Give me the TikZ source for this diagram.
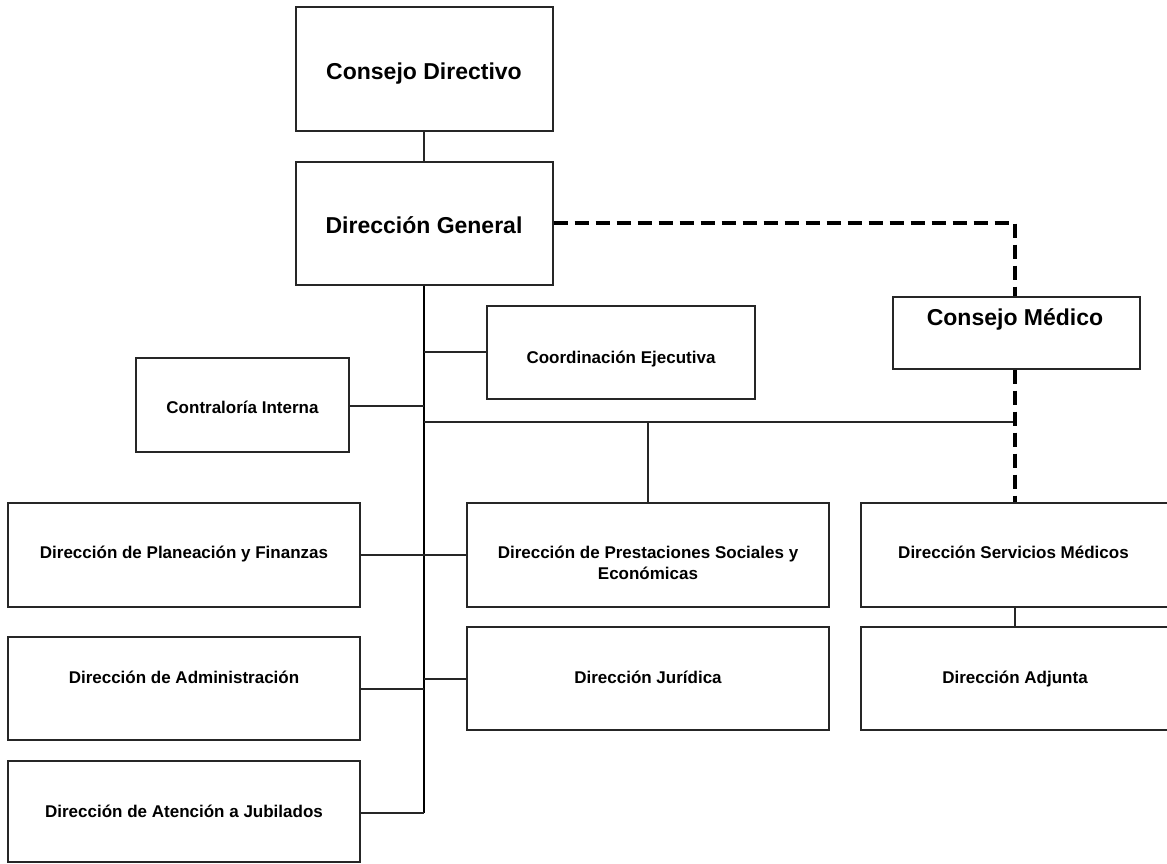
\documentclass[tikz,border=0pt]{standalone}
\usepackage{fontspec}
\setmainfont{Liberation Sans}
\begin{document}
\begin{tikzpicture}[x=1pt,y=-1pt,
  box/.style={draw=black!85,line width=1.4pt,rectangle,inner sep=0pt,fill=white},
  bigtxt/.style={font=\fontsize{23}{27}\selectfont\bfseries,anchor=base,inner sep=0pt},
  smalltxt/.style={font=\fontsize{17}{21}\selectfont\bfseries,anchor=base,inner sep=0pt},
  conn/.style={draw=black!85,line width=1.4pt},
  trunk/.style={draw=black,line width=2.2pt},
  dashconn/.style={draw=black,line width=4pt,dash pattern=on 14pt off 7pt}
]
\useasboundingbox (0,0) rectangle (1167,863);
\begin{scope}
\clip (0,0) rectangle (1167,863);
% boxes
\node[box,minimum width=257pt,minimum height=124pt] (cd) at (424.5,69) {};
\node[box,minimum width=257pt,minimum height=123pt] (dg) at (424.5,223.5) {};
\node[box,minimum width=247pt,minimum height=72pt] (cm) at (1016.5,333) {};
\node[box,minimum width=268pt,minimum height=93pt] (ce) at (621,352.5) {};
\node[box,minimum width=213pt,minimum height=94pt] (ci) at (242.5,405) {};
\node[box,minimum width=352pt,minimum height=104pt] (pf) at (184,555) {};
\node[box,minimum width=362pt,minimum height=104pt] (ps) at (648,555) {};
\node[box,minimum width=319pt,minimum height=104pt] (sm) at (1020.5,555) {};
\node[box,minimum width=352pt,minimum height=103pt] (ad) at (184,688.5) {};
\node[box,minimum width=362pt,minimum height=103pt] (dj) at (648,678.5) {};
\node[box,minimum width=319pt,minimum height=103pt] (da) at (1020.5,678.5) {};
\node[box,minimum width=352pt,minimum height=101pt] (aj) at (184,811.5) {};

% texts
\node[bigtxt] (tcd) at (424,79) {Consejo Directivo};
\node[bigtxt] (tdg) at (424,233) {Dirección General};
\node[bigtxt] (tcm) at (1015,325) {Consejo Médico};
\node[smalltxt] (tce) at (621,363) {Coordinación Ejecutiva};
\node[smalltxt] (tci) at (242.5,413) {Contraloría Interna};
\node[smalltxt] (tpf) at (184,558) {Dirección de Planeación y Finanzas};
\node[smalltxt] (tps) at (648,558) {\begin{tabular}[t]{@{}c@{}}Dirección de Prestaciones Sociales y\\Económicas\end{tabular}};
\node[smalltxt] (tsm) at (1013.5,558) {Dirección Servicios Médicos};
\node[smalltxt] (tad) at (184,683) {Dirección de Administración};
\node[smalltxt] (tdj) at (648,683) {Dirección Jurídica};
\node[smalltxt] (tda) at (1015,683) {Dirección Adjunta};
\node[smalltxt] (taj) at (184,817) {Dirección de Atención a Jubilados};

% junction coordinates
\coordinate (tend) at (424,813);
\coordinate (hl) at (424,422);
\coordinate (hr) at (1015,422);
\coordinate (dc) at (1015,223);

% solid connectors
\draw[conn] (cd.south -| 424,0) -- (dg.north -| 424,0);
\draw[trunk] (dg.south -| 424,0) -- (tend);
\draw[conn] (ce.west |- 0,352) -- (424,352);
\draw[conn] (ci.east |- 0,406) -- (424,406);
\draw[conn] (hl) -- (hr);
\draw[conn] (648,422) -- (ps.north -| 648,0);
\draw[conn] (pf.east |- 0,555) -- (ps.west |- 0,555);
\draw[conn] (ad.east |- 0,689) -- (424,689);
\draw[conn] (424,679) -- (dj.west |- 0,679);
\draw[conn] (aj.east |- 0,813) -- (tend);
\draw[conn] (sm.south -| 1015,0) -- (da.north -| 1015,0);

% dashed connectors
\draw[dashconn] (dg.east |- 0,223) -- (dc) -- (cm.north -| dc);
\draw[dashconn] (cm.south -| dc) -- (sm.north -| dc);
\end{scope}
\end{tikzpicture}
\end{document}
